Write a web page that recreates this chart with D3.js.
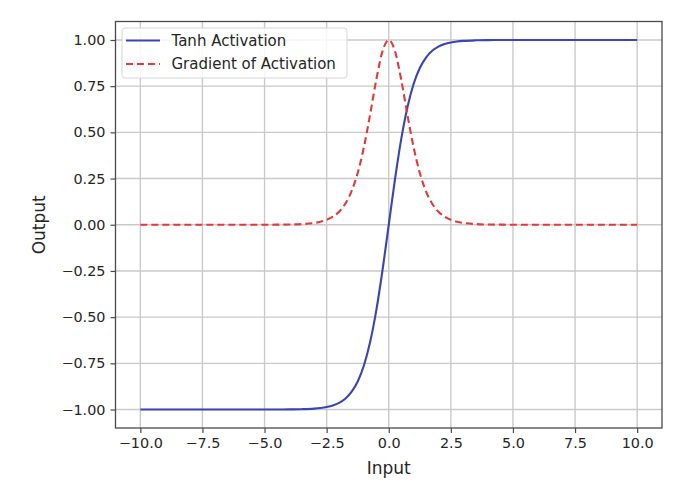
<!DOCTYPE html>
<html>
<head>
<meta charset="utf-8">
<script src="https://cdn.jsdelivr.net/npm/d3@7"></script>
<style>
  html, body { margin: 0; padding: 0; background: #ffffff; }
  svg { display: block; }
  text { font-family: "DejaVu Sans", sans-serif; fill: #262626; }
</style>
</head>
<body>
<svg id="chart" width="678" height="490"></svg>
<script>
// ---- data ----
const xValues = [-10, -8, -6, -5, -4, -3.5, -3, -2.75, -2.5, -2.25, -2, -1.75, -1.5, -1.25, -1, -0.75, -0.5, -0.25,
                 0, 0.25, 0.5, 0.75, 1, 1.25, 1.5, 1.75, 2, 2.25, 2.5, 2.75, 3, 3.5, 4, 5, 6, 8, 10];
const tanhValues = [-1.0, -1.0, -1.0, -0.9999, -0.9993, -0.9982, -0.9951, -0.9919, -0.9866, -0.978, -0.964, -0.9414, -0.9051, -0.8483, -0.7616, -0.6351, -0.4621, -0.2449,
                    0, 0.2449, 0.4621, 0.6351, 0.7616, 0.8483, 0.9051, 0.9414, 0.964, 0.978, 0.9866, 0.9919, 0.9951, 0.9982, 0.9993, 0.9999, 1.0, 1.0, 1.0];
const gradValues = [0, 0, 0, 0.0002, 0.0013, 0.0036, 0.0099, 0.0163, 0.0266, 0.0435, 0.0707, 0.1138, 0.1807, 0.2805, 0.42, 0.5966, 0.7864, 0.94,
                    1.0, 0.94, 0.7864, 0.5966, 0.42, 0.2805, 0.1807, 0.1138, 0.0707, 0.0435, 0.0266, 0.0163, 0.0099, 0.0036, 0.0013, 0.0002, 0, 0, 0];
const seriesNames = ["Tanh Activation", "Gradient of Activation"];
const xTicks = [-10, -7.5, -5, -2.5, 0, 2.5, 5, 7.5, 10];
const yTicks = [-1, -0.75, -0.5, -0.25, 0, 0.25, 0.5, 0.75, 1];
const xLabel = "Input";
const yLabel = "Output";

// ---- layout ----
const svg = d3.select("#chart");
const plot = { left: 115.5, right: 662, top: 21.5, bottom: 428 };
const x = d3.scaleLinear().domain([-11, 11]).range([plot.left, plot.right]);
const y = d3.scaleLinear().domain([-1.1, 1.1]).range([plot.bottom, plot.top]);
const blue = "#3a44b4";
const red = "#e03a3c";
const gridColor = "#c9c9c9";
const frameColor = "#4a4a4a";
const fmtX = v => (v < 0 ? "\u2212" : "") + Math.abs(v).toFixed(1);
const fmtY = v => (v < 0 ? "\u2212" : "") + Math.abs(v).toFixed(2);

// grid
const grid = svg.append("g");
grid.selectAll("line.gx").data(xTicks).join("line")
  .attr("x1", d => x(d)).attr("x2", d => x(d))
  .attr("y1", plot.top).attr("y2", plot.bottom)
  .attr("stroke", gridColor).attr("stroke-width", 1.4);
grid.selectAll("line.gy").data(yTicks).join("line")
  .attr("y1", d => y(d)).attr("y2", d => y(d))
  .attr("x1", plot.left).attr("x2", plot.right)
  .attr("stroke", gridColor).attr("stroke-width", 1.4);

// axes
const xAxis = d3.axisBottom(x).tickValues(xTicks).tickFormat(fmtX).tickSizeOuter(0).tickSize(5).tickPadding(5);
const yAxis = d3.axisLeft(y).tickValues(yTicks).tickFormat(fmtY).tickSizeOuter(0).tickSize(5).tickPadding(5);
const gx = svg.append("g").attr("transform", `translate(0,${plot.bottom})`).call(xAxis);
const gy = svg.append("g").attr("transform", `translate(${plot.left},0)`).call(yAxis);
[gx, gy].forEach(g => {
  g.select(".domain").remove();
  g.selectAll(".tick line").attr("stroke", frameColor).attr("stroke-width", 1.2);
  g.selectAll(".tick text").attr("font-size", 14.4).attr("fill", "#262626")
    .style("font-family", "'DejaVu Sans', sans-serif");
});

// lines
const pts = (vals) => xValues.map((v, i) => [v, vals[i]]);
const line = d3.line().x(d => x(d[0])).y(d => y(d[1])).curve(d3.curveMonotoneX);
svg.append("path").datum(pts(tanhValues)).attr("d", line)
  .attr("fill", "none").attr("stroke", blue).attr("stroke-width", 2.1);
svg.append("path").datum(pts(gradValues)).attr("d", line)
  .attr("fill", "none").attr("stroke", red).attr("stroke-width", 2.1)
  .attr("stroke-dasharray", "7,4");

// frame
svg.append("rect").attr("x", plot.left).attr("y", plot.top)
  .attr("width", plot.right - plot.left).attr("height", plot.bottom - plot.top)
  .attr("fill", "none").attr("stroke", frameColor).attr("stroke-width", 1.3);

// axis labels
svg.append("text").attr("x", x(0)).attr("y", 474).attr("text-anchor", "middle")
  .attr("font-size", 17).text(xLabel);
svg.append("text").attr("transform", `translate(45,${y(0)}) rotate(-90)`)
  .attr("text-anchor", "middle").attr("font-size", 17).text(yLabel);

// legend
const lg = svg.append("g");
lg.append("rect").attr("x", 122).attr("y", 28).attr("width", 225).attr("height", 50)
  .attr("rx", 3).attr("fill", "#ffffff").attr("fill-opacity", 0.85)
  .attr("stroke", "#d6d6d6").attr("stroke-width", 1);
const legendItems = [
  { name: seriesNames[0], color: blue, dash: null, y: 40.5 },
  { name: seriesNames[1], color: red, dash: "7,4", y: 64 }
];
legendItems.forEach(it => {
  lg.append("line").attr("x1", 126).attr("x2", 160).attr("y1", it.y).attr("y2", it.y)
    .attr("stroke", it.color).attr("stroke-width", 2.1)
    .attr("stroke-dasharray", it.dash);
  lg.append("text").attr("x", 171.5).attr("y", it.y).attr("dy", "0.35em")
    .attr("font-size", 15).text(it.name);
});
</script>
</body>
</html>
